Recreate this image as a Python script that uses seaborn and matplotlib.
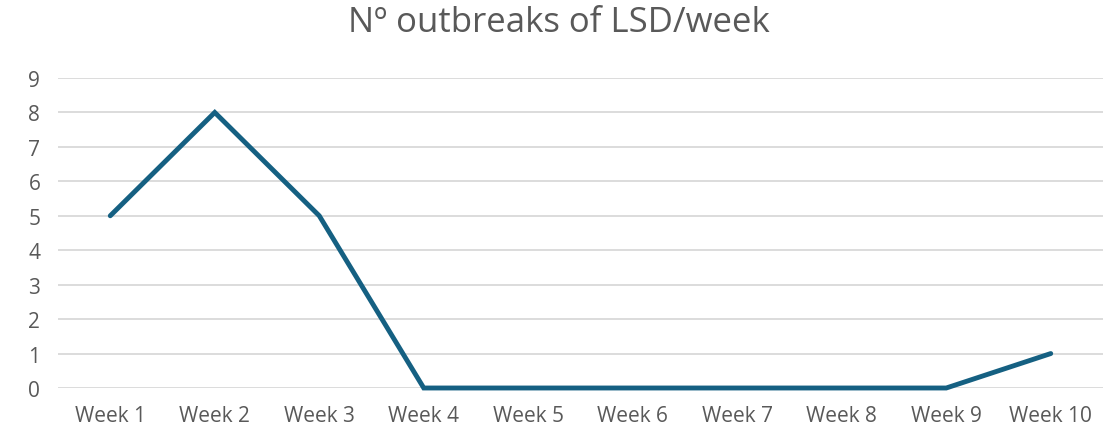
import matplotlib
matplotlib.use("Agg")
import matplotlib.pyplot as plt
import seaborn as sns
import pandas as pd

weeks = ["Week 1", "Week 2", "Week 3", "Week 4", "Week 5",
         "Week 6", "Week 7", "Week 8", "Week 9", "Week 10"]
outbreaks = [5, 8, 5, 0, 0, 0, 0, 0, 0, 1]
y_ticks = list(range(0, 10))
title = "Nº outbreaks of LSD/week"

sns.set_theme(style="white")
plt.rcParams['font.family'] = ['Open Sans', 'DejaVu Sans']

df = pd.DataFrame({"week": weeks, "outbreaks": outbreaks})

fig = plt.figure(figsize=(11.17, 4.31), dpi=100)
ax = fig.add_axes([58/1117, 1 - 389/431, (1103 - 58)/1117, (389 - 79)/431])

x = list(range(len(weeks)))
df["x"] = x
sns.lineplot(data=df, x="x", y="outbreaks", ax=ax, color="#156082",
             linewidth=3.5, solid_capstyle="round", solid_joinstyle="miter")

ax.set_xlim(-0.5, len(weeks) - 0.5)
ax.set_ylim(0, 9)
ax.set_yticks(y_ticks)
ax.set_xticks(x)
ax.set_xticklabels(weeks)
ax.set_xlabel("")
ax.set_ylabel("")
ax.yaxis.grid(True, color="#d9d9d9", linewidth=1.3)
ax.set_axisbelow(True)
for s in ax.spines.values():
    s.set_visible(False)
ax.tick_params(axis="both", length=0, labelsize=15, colors="#595959")
ax.tick_params(axis="x", pad=12)
for lab in ax.get_yticklabels():
    lab.set_horizontalalignment("center")
ax.yaxis.set_tick_params(pad=17)
for l in ax.lines:
    l.set_clip_on(False)

fig.text(0.5, 1 - 23/431, title, ha="center", va="center",
         fontsize=25, color="#595959")

fig.savefig("out.png", dpi=100)
